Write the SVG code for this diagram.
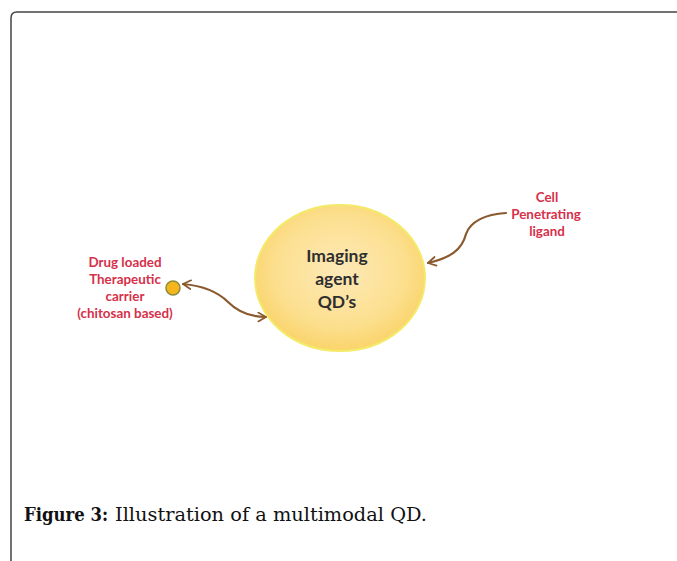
<svg xmlns="http://www.w3.org/2000/svg" width="677" height="561" viewBox="0 0 677 561">
<style>
.frame{fill:none;stroke:#444;stroke-width:1.5}
.conn{fill:none;stroke:#8a5a2e;stroke-width:2.2;stroke-linecap:round}
.lbl{font-family:Lato,"Open Sans","Liberation Sans",sans-serif;font-weight:bold;font-size:13.4px;fill:#d6304a;text-anchor:middle}
.core{font-family:Lato,"Open Sans","Liberation Sans",sans-serif;font-weight:bold;font-size:17.5px;fill:#2e2e2e;text-anchor:middle}
.cap{font-family:"DejaVu Serif","Liberation Serif",serif;font-size:19px;fill:#111}
</style>
<defs>
<radialGradient id="g" cx="50%" cy="45%" r="55%">
<stop offset="0" stop-color="#fde9b8"/>
<stop offset="0.7" stop-color="#fcdf8e"/>
<stop offset="1" stop-color="#fad46a"/>
</radialGradient>
<marker id="ah" viewBox="0 0 10 10" refX="8" refY="5" markerWidth="5" markerHeight="5" orient="auto-start-reverse" markerUnits="strokeWidth">
<path d="M1,1 L8,5 L1,9" fill="none" stroke="#8a5a2e" stroke-width="1.6" stroke-linecap="round" stroke-linejoin="round"/>
</marker>
</defs>
<rect width="677" height="561" fill="#fff"/>
<path class="frame" d="M11,561 L11,18 Q11,12 17,12 L677,12"/>
<g id="connectors">
<path class="conn" marker-start="url(#ah)" marker-end="url(#ah)" d="M183,284 C205,286 218,292 228,302 C238,312 250,317 266,317"/>
<path class="conn" marker-end="url(#ah)" d="M506,213 C485,214 470,222 466,234 C462,250 450,258 428,263"/>
</g>
<g id="qd">
<ellipse cx="340" cy="278" rx="85" ry="73" fill="url(#g)" stroke="#f4ea6a" stroke-width="2"/>
<text class="core" x="337" y="262">Imaging</text>
<text class="core" x="337" y="285">agent</text>
<text class="core" x="337" y="308">QD’s</text>
</g>
<g id="carrier">
<circle cx="173" cy="288" r="7" fill="#f5b51c" stroke="#8c8c3c" stroke-width="1.5"/>
<text class="lbl" x="125" y="267">Drug loaded</text>
<text class="lbl" x="125" y="284">Therapeutic</text>
<text class="lbl" x="125" y="301">carrier</text>
<text class="lbl" x="125" y="318">(chitosan based)</text>
</g>
<g id="ligand">
<text class="lbl" x="547" y="202">Cell</text>
<text class="lbl" x="546" y="219">Penetrating</text>
<text class="lbl" x="547" y="236">ligand</text>
</g>
<g id="caption">
<text class="cap" x="24" y="521" font-weight="bold" textLength="84" lengthAdjust="spacingAndGlyphs">Figure 3:</text>
<text class="cap" x="115" y="521" textLength="312" lengthAdjust="spacingAndGlyphs">Illustration of a multimodal QD.</text>
</g>
</svg>
